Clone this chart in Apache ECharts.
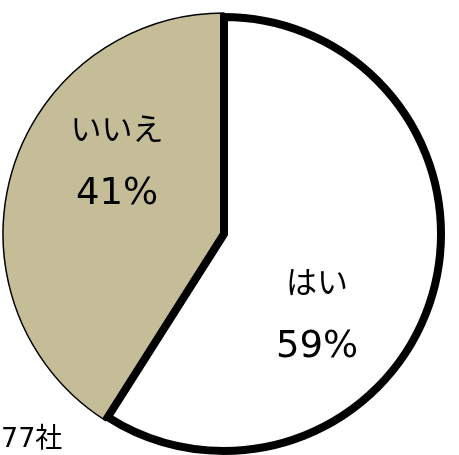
<!DOCTYPE html>
<html>
<head>
<meta charset="utf-8">
<script src="https://cdn.jsdelivr.net/npm/echarts@6/dist/echarts.min.js"></script>
<style>
  html, body { margin: 0; padding: 0; background: #fff; }
  #chart { width: 459px; height: 455px; }
</style>
</head>
<body>
<div id="chart"></div>
<script>
// Survey answers (share of companies, %)
const categories = ['はい', 'いいえ'];
const shares = [59, 41];
const sampleNote = '77社';

const FONT = "'DejaVu Sans', 'Noto Sans CJK JP', sans-serif";
const labelRich = {
  name: { fontFamily: FONT, fontSize: 31, color: '#000', lineHeight: 62 },
  pct: { fontFamily: FONT, fontSize: 37, color: '#000', lineHeight: 62 }
};
const labelFmt = p => '{name|' + p.name + '}\n{pct|' + p.value + '%}';

const chart = echarts.init(document.getElementById('chart'), null, { renderer: 'canvas' });

chart.setOption({
  animation: false,
  backgroundColor: '#fff',
  graphic: [{
    type: 'text',
    left: 1,
    top: 426,
    style: { text: sampleNote, font: '27px ' + FONT, fill: '#000' }
  }],
  series: [
    {
      // filled "いいえ" wedge with a hairline outline
      type: 'pie',
      center: [224, 234],
      radius: [0, 221],
      startAngle: 90,
      clockwise: true,
      silent: true,
      emphasis: { disabled: true },
      labelLine: { show: false },
      data: [
        { name: categories[0], value: shares[0],
          itemStyle: { color: 'rgba(0,0,0,0)', borderWidth: 0 },
          label: { show: false } },
        { name: categories[1], value: shares[1],
          itemStyle: { color: '#C4BD97', borderColor: '#000', borderWidth: 1.5 },
          label: { show: true, position: 'inside', formatter: labelFmt, rich: labelRich, offset: [2, -39] } }
      ]
    },
    {
      // white "はい" wedge with the heavy outline
      type: 'pie',
      center: [224, 234],
      radius: [0, 217],
      startAngle: 90,
      clockwise: true,
      silent: true,
      emphasis: { disabled: true },
      labelLine: { show: false },
      data: [
        { name: categories[0], value: shares[0],
          itemStyle: { color: '#fff', borderColor: '#000', borderWidth: 8, borderJoin: 'miter' },
          label: { show: true, position: 'inside', formatter: labelFmt, rich: labelRich, offset: [-14, 51] } },
        { name: categories[1], value: shares[1],
          itemStyle: { color: 'rgba(0,0,0,0)', borderWidth: 0 },
          label: { show: false } }
      ]
    }
  ]
});
</script>
</body>
</html>
